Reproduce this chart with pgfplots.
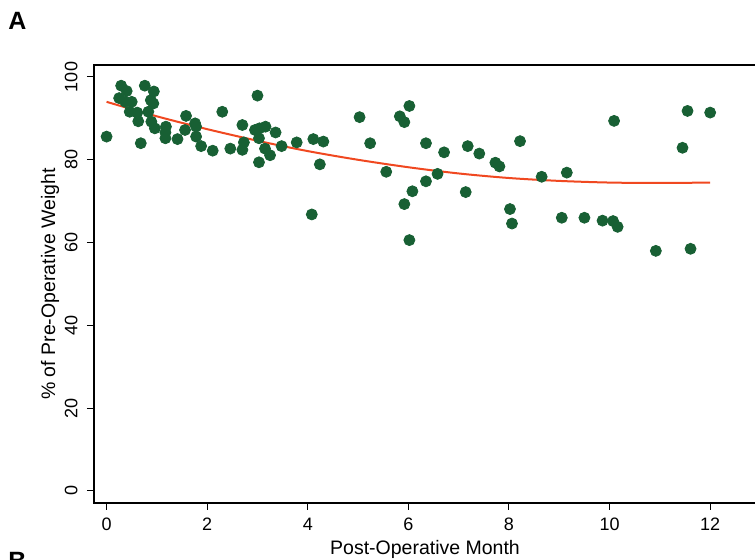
\documentclass[border=0pt]{standalone}
\usepackage{fontspec}
\setmainfont{Liberation Sans}
\usepackage{pgfplots}
\pgfplotsset{compat=1.18}
\definecolor{dotgreen}{RGB}{24,96,52}
\definecolor{fitred}{RGB}{240,72,32}
\begin{document}
\begin{tikzpicture}[x=1pt,y=1pt]
\begin{axis}[
  at={(47pt,247.5pt)}, anchor=north west,
  scale only axis, width=336pt, height=219pt,
  xmin=-0.25, xmax=13.11, ymin=-2.9, ymax=102.9,
  xtick={0,2,4,6,8,10,12}, ytick={0,20,40,60,80,100},
  xtick pos=bottom, ytick pos=left,
  tick align=outside, major tick length=3.5pt,
  axis line style={line width=0.8pt},
  every tick/.style={black, line width=0.5pt},
  /pgf/number format/assume math mode=true,
  ticklabel style={font=\fontsize{9}{10}\selectfont},
  yticklabel style={rotate=90, anchor=south, inner sep=0pt},
  xticklabel style={anchor=north, inner sep=0pt},
  xticklabel shift=4pt, yticklabel shift=4.5pt,
]
\addplot[only marks, mark=*, mark size=2.75pt, draw=dotgreen, fill=dotgreen] coordinates {
(0.00,85.6) (0.29,97.9) (0.40,96.6) (0.25,94.9) (0.37,94.0) (0.50,94.0)
(0.46,91.6) (0.61,91.4) (0.63,89.3) (0.68,84.0) (0.76,97.9) (0.94,96.5)
(0.88,94.4) (0.93,93.6) (0.83,91.6) (0.89,89.2) (0.96,87.6)
(1.18,88.0) (1.17,86.6) (1.17,85.2) (1.41,85.0) (1.58,90.6) (1.56,87.2)
(1.76,88.8) (1.78,88.0) (1.78,85.6) (1.88,83.3) (2.11,82.2) (2.30,91.6)
(2.46,82.7) (2.70,88.4) (2.73,84.2) (2.70,82.4) (3.00,95.5) (2.95,87.2)
(3.04,87.6) (3.16,88.0) (3.03,85.2) (3.15,82.7) (3.03,79.4) (3.25,81.1)
(3.36,86.6) (3.48,83.3) (3.78,84.2) (4.11,85.0) (4.31,84.4) (4.24,78.9)
(4.08,66.8) (5.03,90.3) (5.24,84.0) (5.56,77.1) (5.83,90.5) (5.92,89.1)
(6.02,93.0) (6.35,84.0) (6.71,81.8) (7.18,83.3) (7.41,81.5) (7.73,79.3)
(7.81,78.4) (8.22,84.5) (6.58,76.6) (6.35,74.8) (6.08,72.4) (5.92,69.3)
(6.02,60.6) (7.14,72.2) (8.02,68.1) (8.06,64.6) (8.65,75.9) (9.15,76.9)
(9.05,66.0) (9.50,66.0) (9.86,65.3) (10.07,65.2) (10.16,63.8) (10.09,89.4)
(10.92,58.0) (11.61,58.5) (11.45,82.9) (11.55,91.8) (12.00,91.4)
};
\addplot[fitred, line width=1pt, smooth] coordinates {
(0,94.0) (1,90.5) (2,87.4) (3,84.6) (4,82.1) (5,80.0) (6,78.2)
(7,76.7) (8,75.6) (9,74.9) (10,74.5) (11,74.4) (12,74.5)
};
\end{axis}
\node[anchor=base west, inner sep=0pt, font=\fontsize{12.5}{14}\selectfont\bfseries] at (4pt,265pt) {A};
\node[anchor=base west, inner sep=0pt, font=\fontsize{12.5}{14}\selectfont\bfseries] at (4pt,-5pt) {B};
\node[anchor=base, font=\fontsize{9.75}{11}\selectfont] at (212.5pt,2.5pt) {Post-Operative Month};
\node[anchor=base, rotate=90, font=\fontsize{9.75}{11}\selectfont] at (27.5pt,138pt) {\% of Pre-Operative Weight};
\pgfresetboundingbox
\path[use as bounding box] (0,0) rectangle (377.5pt,280pt);
\end{tikzpicture}
\end{document}
